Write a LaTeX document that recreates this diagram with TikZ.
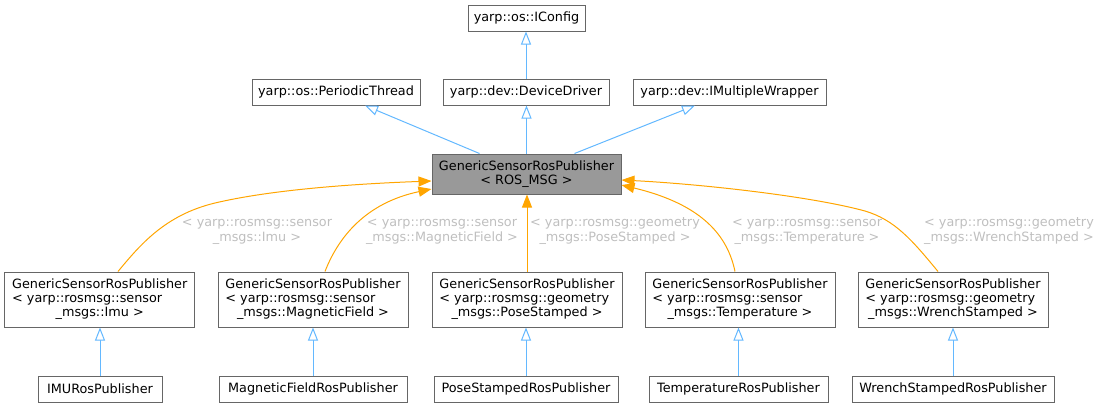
\documentclass[tikz,border=0pt]{standalone}
\usepackage{fontspec}
\setmainfont{DejaVu Sans}
\usetikzlibrary{arrows.meta,calc}
\definecolor{boxborder}{HTML}{666666}
\definecolor{curfill}{HTML}{999999}
\definecolor{inhblue}{HTML}{63B8FF}
\definecolor{tmplorange}{HTML}{FFA500}
\definecolor{lblgray}{HTML}{BFBFBF}
\newcommand{\threelines}[3]{\begin{tabular}{@{}l@{}}#1\\#2\\\multicolumn{1}{@{}c@{}}{#3}\end{tabular}}
\begin{document}
\begin{tikzpicture}[x=1pt,y=-1pt,
  box/.style={draw=boxborder,line width=1pt,fill=white,rectangle,inner sep=0pt,
    minimum height=26pt,font=\fontsize{12.8}{14}\selectfont},
  tall/.style={box,minimum width=190pt,minimum height=55pt},
  cur/.style={box,fill=curfill,align=center,minimum width=189pt,minimum height=40pt},
  lbl/.style={text=lblgray,align=center,inner sep=0pt,font=\fontsize{12.8}{15}\selectfont},
  inh/.style={draw=inhblue,line width=1pt,-{Triangle[length=13pt,width=10pt,fill=white]}},
  tmpl/.style={draw=tmplorange,line width=1pt,-{Triangle[length=13pt,width=10pt,fill=tmplorange]}}
]
\useasboundingbox (0,0) rectangle (1103,407);
% top rows
\node[box,minimum width=117pt] (iconfig) at (526.5,18) {yarp::os::IConfig};
\node[box,minimum width=168pt] (pt) at (336,92) {yarp::os::PeriodicThread};
\node[box,minimum width=166pt] (dd) at (526,92) {yarp::dev::DeviceDriver};
\node[box,minimum width=193pt] (imw) at (729.5,92) {yarp::dev::IMultipleWrapper};
% central
\node[cur] (central) at (526.5,174) {GenericSensorRosPublisher\\< ROS\_MSG >};
% middle row
\node[tall] (imu) at (99.7,299.5) {\threelines{GenericSensorRosPublisher}{< yarp::rosmsg::sensor}{\_msgs::Imu >}};
\node[tall] (mag) at (313,299.5) {\threelines{GenericSensorRosPublisher}{< yarp::rosmsg::sensor}{\_msgs::MagneticField >}};
\node[tall] (pose) at (527,299.5) {\threelines{GenericSensorRosPublisher}{< yarp::rosmsg::geometry}{\_msgs::PoseStamped >}};
\node[tall] (temp) at (740,299.5) {\threelines{GenericSensorRosPublisher}{< yarp::rosmsg::sensor}{\_msgs::Temperature >}};
\node[tall] (wrench) at (953,299.5) {\threelines{GenericSensorRosPublisher}{< yarp::rosmsg::geometry}{\_msgs::WrenchStamped >}};
% bottom row
\node[box,minimum width=124pt] (imuros) at (100,389) {IMURosPublisher};
\node[box,minimum width=188pt] (magros) at (313,389) {MagneticFieldRosPublisher};
\node[box,minimum width=184pt] (poseros) at (526,389) {PoseStampedRosPublisher};
\node[box,minimum width=179pt] (tempros) at (738.5,389) {TemperatureRosPublisher};
\node[box,minimum width=202pt] (wrenchros) at (953,389) {WrenchStampedRosPublisher};
% inheritance edges
\draw[inh] (dd.north) -- (dd.north |- iconfig.south);
\draw[inh] ($(central.north)+(-47,0)$) -- ($(pt.south)+(29,0)$);
\draw[inh] (central.north) -- (central.north |- dd.south);
\draw[inh] ($(central.north)+(48,0)$) -- ($(imw.south)+(-34.5,0)$);
\draw[inh] (imuros.north) -- (imuros.north |- imu.south);
\draw[inh] (magros.north) -- (magros.north |- mag.south);
\draw[inh] (poseros.north) -- (poseros.north |- pose.south);
\draw[inh] (tempros.north) -- (tempros.north |- temp.south);
\draw[inh] (wrenchros.north) -- (wrenchros.north |- wrench.south);
% template edges
\draw[tmpl] ($(imu.north)+(18.3,0)$) .. controls (140,245) and (165,215) .. (215,203)
   .. controls (270,190) and (350,184) .. ($(central.west)+(0,7)$);
\draw[tmpl] ($(mag.north)+(12,0)$) .. controls (338,238) and (365,203) .. ($(central.west)+(0,15)$);
\draw[tmpl] (pose.north) -- (pose.north |- central.south);
\draw[tmpl] ($(temp.north)+(-5,0)$) .. controls (728,238) and (705,205) .. ($(central.east)+(0,11)$);
\draw[tmpl] ($(wrench.north)+(-15,0)$) .. controls (912,240) and (895,220) .. (865,211)
   .. controls (810,196) and (700,184) .. ($(central.east)+(0,6)$);
% edge labels
\node[lbl] (l1) at (257,231.5) {< yarp::rosmsg::sensor\\\_msgs::Imu >};
\node[lbl] (l2) at (442,231.5) {< yarp::rosmsg::sensor\\\_msgs::MagneticField >};
\node[lbl] (l3) at (615,231.5) {< yarp::rosmsg::geometry\\\_msgs::PoseStamped >};
\node[lbl] (l4) at (807,231.5) {< yarp::rosmsg::sensor\\\_msgs::Temperature >};
\node[lbl] (l5) at (1009,231.5) {< yarp::rosmsg::geometry\\\_msgs::WrenchStamped >};
\end{tikzpicture}
\end{document}
